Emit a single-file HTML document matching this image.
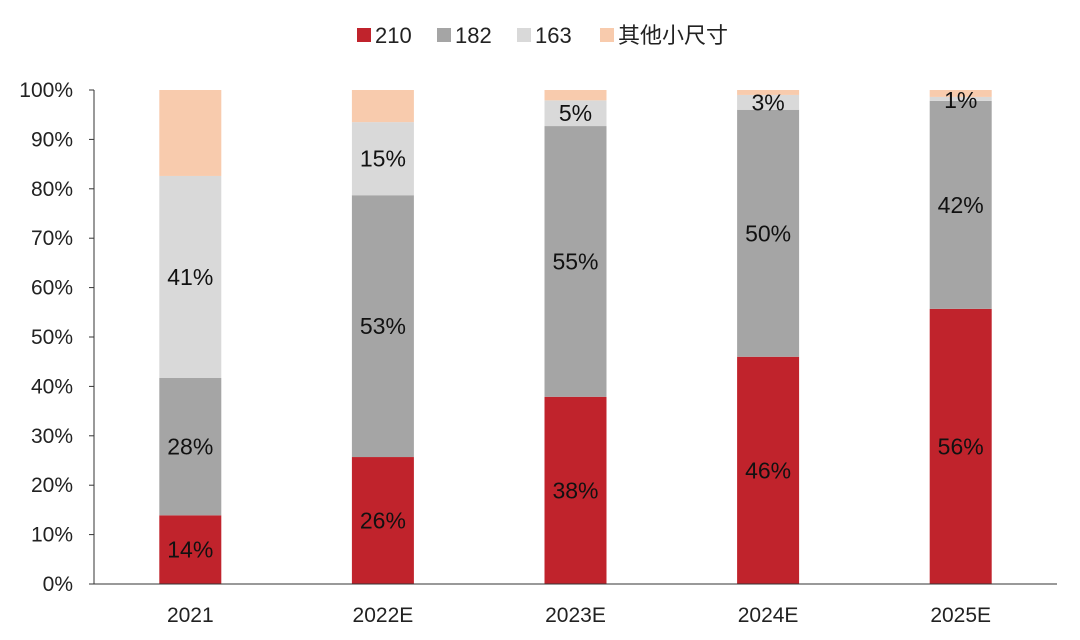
<!DOCTYPE html>
<html><head><meta charset="utf-8"><style>
body{margin:0;background:#fff;}
svg{display:block;font-family:"Liberation Sans","Noto Sans CJK SC",sans-serif;}
</style></head><body>
<svg id="chart" width="1080" height="640"></svg>
<script>
const categories=["2021","2022E","2023E","2024E","2025E"];
const s210=[13.9,25.7,37.9,46.0,55.7];
const s182=[27.8,53.0,54.8,50.0,42.1];
const s163=[40.9,14.8,5.2,3.0,0.8];
const sOther=[17.4,6.5,2.1,1.0,1.4];
const yTicks=[0,10,20,30,40,50,60,70,80,90,100];
const seriesNames=["210","182","163","其他小尺寸"];
const colors=["#C0232C","#A5A5A5","#D9D9D9","#F8CBAD"];
const series=[s210,s182,s163,sOther];
const NS="http://www.w3.org/2000/svg";
const svg=document.getElementById('chart');
const x0=94,x1=1057,y0=584,y1=90,barW=62;
const y=v=>y0-(v/100)*(y0-y1);
const xc=i=>x0+(i+0.5)*(x1-x0)/categories.length;
function mk(t,a,p){const e=document.createElementNS(NS,t);for(const k in a)e.setAttribute(k,a[k]);(p||svg).appendChild(e);return e;}
yTicks.forEach(t=>{
  const l=mk('text',{x:73,y:y(t)+7,'text-anchor':'end','font-size':21,fill:'#222'});
  l.textContent=t+'%';
  
  
  const tk=mk('line',{x1:89,x2:94,y1:y(t),y2:y(t),stroke:'#333'});
  
  
});
categories.forEach((c,i)=>{
  let cum=0;
  series.forEach((s,k)=>{
    const v=s[i];
    const r=mk('rect',{x:xc(i)-barW/2,y:y(cum+v),width:barW,height:y(cum)-y(cum+v),fill:colors[k]});
    
    
    cum+=v;
  });
  const l=mk('text',{x:xc(i),y:622,'text-anchor':'middle','font-size':21,fill:'#222'});
  l.textContent=c;
  
  
});
categories.forEach((c,i)=>{
  let cum=0;
  series.forEach((s,k)=>{
    const v=s[i];
    if(k<3){
      let cy=y(cum+v/2)+8;
      if(cy<108)cy=108;
      const t=mk('text',{x:xc(i),y:cy,'text-anchor':'middle','font-size':23,fill:'#111'});
      t.textContent=Math.round(v)+'%';
      
      
    }
    cum+=v;
  });
});
const ax=mk('line',{x1:x0,x2:x0,y1:y1,y2:y0,stroke:'#333'});


const bx=mk('line',{x1:x0,x2:x1,y1:y0,y2:y0,stroke:'#333'});


const lx=[357,437,517,600];
seriesNames.forEach((n,k)=>{
  const g=mk('g',{});
  
  
  mk('rect',{x:lx[k],y:28,width:14,height:14,fill:colors[k]},g);
  const t=mk('text',{x:lx[k]+18,y:43,'font-size':22,fill:'#222'},g);
  t.textContent=n;
});
</script>
</body></html>
